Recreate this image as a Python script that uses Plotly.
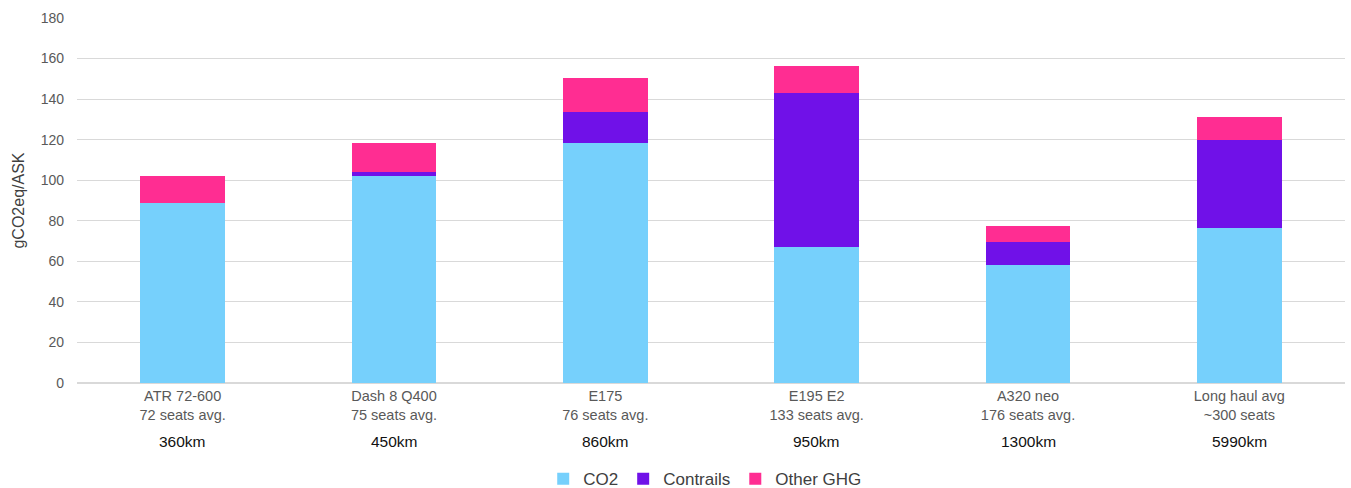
import plotly.graph_objects as go

categories = ["ATR 72-600<br>72 seats avg.", "Dash 8 Q400<br>75 seats avg.", "E175<br>76 seats avg.",
              "E195 E2<br>133 seats avg.", "A320 neo<br>176 seats avg.", "Long haul avg<br>~300 seats"]
distances = ["360km", "450km", "860km", "950km", "1300km", "5990km"]
co2 = [89, 102, 118.5, 67, 58, 76.5]
contrails = [0, 2, 15, 76, 11.5, 43.5]
other_ghg = [13, 14.5, 17, 13.5, 8, 11]

colors = {"CO2": "#76D0FC", "Contrails": "#7011E8", "Other GHG": "#FF2D92"}

fig = go.Figure()
for name, vals in [("CO2", co2), ("Contrails", contrails), ("Other GHG", other_ghg)]:
    fig.add_trace(go.Bar(x=categories, y=vals, name=name, marker_color=colors[name],
                         marker_line_width=0, width=0.4))

for c, d in zip(categories, distances):
    fig.add_annotation(x=c, y=-0.159, xref="x", yref="paper", text=d, showarrow=False,
                       font=dict(size=15.5, color="#111111"), yanchor="middle")

fig.update_layout(
    barmode="stack",
    width=1351, height=488,
    margin=dict(l=77, r=6, t=18, b=105, autoexpand=False),
    paper_bgcolor="white", plot_bgcolor="white",
    font=dict(family="Liberation Sans, Arial, sans-serif", color="#595959", size=14),
    legend=dict(orientation="h", x=0.522, xanchor="center", xref="container",
                y=0.018, yanchor="middle", yref="container",
                font=dict(size=17, color="#404040"), itemwidth=30, traceorder="normal"),
    bargap=0.6,
)
fig.update_yaxes(range=[0, 180], dtick=20, gridcolor="#D9D9D9", gridwidth=1, zeroline=True,
                 zerolinecolor="#D9D9D9", ticks="", ticklabelstandoff=12,
                 title=dict(text="gCO2eq/ASK", font=dict(size=16, color="#404040"), standoff=12))
fig.update_xaxes(showline=True, linecolor="#D9D9D9", ticks="", tickfont=dict(size=14.5, color="#595959"))

fig.write_html("out.html")
